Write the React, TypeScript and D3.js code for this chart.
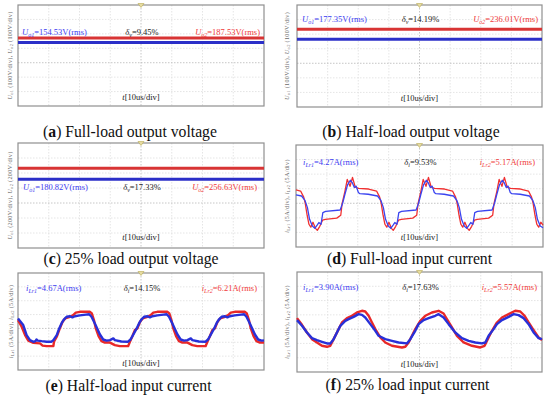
import React from "react";
import * as d3 from "d3";

const W = 550;
const H = 399;

// ---- output voltage panels (a)-(c): trace levels (V)
const voltPerDiv = [100, 100, 200];
const uo1Level = [140, 165, 316];
const uo2Level = [172, 233, 463];
const uo1Rms = ["154.53", "177.35", "180.82"];
const uo2Rms = ["187.53", "236.01", "256.63"];
const deltaV = ["9.45", "14.19", "17.33"];

// ---- input current panels (d)-(f): rms readouts
const iLr1Rms = ["4.27", "4.67", "3.90"];
const iLr2Rms = ["5.17", "6.21", "5.57"];
const deltaI = ["9.53", "14.15", "17.63"];
const ampPerDiv = 5;

// [t (us), i (A)]
const iLr1Full: [number, number][] = [
  [0, 2.9], [1.8, 2.5], [2.9, 1.0], [3.7, -1.5], [4.4, -5.5], [5.3, -7.8], [6.1, -8.6], [6.9, -7.4], [7.4, -6.6], [8.1, -7.2], [8.7, -3.2], [9.6, -2.8], [14.3, -2.3],
  [15.1, 0], [15.85, 3.1], [16.7, 6.3], [17.6, 7.9], [18.2, 7.1], [18.9, 5.4], [19.5, 5.9], [20.2, 3.7], [20.7, 3.3], [23.4, 3.1], [26.4, 2.5], [27.5, 1.0], [28.3, -1.5], [29.0, -5.5], [29.9, -7.8], [30.7, -8.6], [31.5, -7.4], [32.0, -6.6], [32.7, -7.2], [33.3, -3.2], [34.2, -2.8], [38.9, -2.3],
  [39.7, 0], [40.45, 3.1], [41.3, 6.3], [42.2, 7.9], [42.8, 7.1], [43.5, 5.4], [44.1, 5.9], [44.8, 3.7], [45.3, 3.3], [48.0, 3.1], [51.0, 2.5], [52.1, 1.0], [52.9, -1.5], [53.6, -5.5], [54.5, -7.8], [55.3, -8.6], [56.1, -7.4], [56.6, -6.6], [57.3, -7.2], [57.9, -3.2], [58.8, -2.8], [63.5, -2.3],
  [64.3, 0], [65.05, 3.1], [65.9, 6.3], [66.8, 7.9], [67.4, 7.1], [68.1, 5.4], [68.7, 5.9], [69.4, 3.7], [69.9, 3.3], [72.6, 3.1], [75.6, 2.5], [76.7, 1.0], [77.5, -1.5], [78.2, -5.5], [79.1, -7.8], [80, -8.4],
];
const iLr2Full: [number, number][] = [
  [0, 4.6], [1.5, 4.2], [2.5, 2.1], [3.0, 0], [3.6, -4.1], [4.2, -7.2], [4.8, -8.2], [5.5, -6.5], [6.3, -8.6], [6.9, -9.3], [7.7, -7.9], [8.6, -5.8], [9.5, -5.5], [13.2, -5.1], [14.5, -4.1],
  [14.95, 0], [15.85, 4.1], [16.6, 8.2], [17.5, 5.8], [18.3, 8.9], [19.2, 5.5], [20.3, 5.1], [23.5, 4.9], [26.1, 4.2], [27.1, 2.1], [27.6, 0], [28.2, -4.1], [28.8, -7.2], [29.4, -8.2], [30.1, -6.5], [30.9, -8.6], [31.5, -9.3], [32.3, -7.9], [33.2, -5.8], [34.1, -5.5], [37.8, -5.1], [39.1, -4.1],
  [39.55, 0], [40.45, 4.1], [41.2, 8.2], [42.1, 5.8], [42.9, 8.9], [43.8, 5.5], [44.9, 5.1], [48.1, 4.9], [50.7, 4.2], [51.7, 2.1], [52.2, 0], [52.8, -4.1], [53.4, -7.2], [54.0, -8.2], [54.7, -6.5], [55.5, -8.6], [56.1, -9.3], [56.9, -7.9], [57.8, -5.8], [58.7, -5.5], [62.4, -5.1], [63.7, -4.1],
  [64.15, 0], [65.05, 4.1], [65.8, 8.2], [66.7, 5.8], [67.5, 8.9], [68.4, 5.5], [69.5, 5.1], [72.7, 4.9], [75.3, 4.2], [76.3, 2.1], [76.8, 0], [77.4, -4.1], [78.0, -7.2], [78.6, -8.2], [79.3, -6.5], [80, -7.5],
];

const iLr1Half: [number, number][] = [
  [0, 3.6], [1.7, 1.2], [2.8, -2.4], [3.9, -4.2], [5.0, -4.8], [5.7, -4.6], [6.0, -4.0], [6.4, -4.4], [7.7, -4.6], [9.3, -4.8], [10.9, -4.8], [11.5, -4.2], [12.6, -2.4],
  [13.4, 0], [14.15, 1.8], [14.9, 3.2], [15.8, 4.2], [16.9, 4.4], [17.7, 4.0], [18.5, 4.4], [20.1, 4.7], [22.1, 5.0], [23.15, 5.1], [23.9, 4.2], [25.0, 1.8], [25.75, 0], [26.6, -2.1], [27.7, -4.0], [28.8, -4.4], [29.9, -4.2], [31.0, -3.6], [31.5, -4.2], [33.6, -4.7], [35.8, -4.8], [36.6, -4.0], [37.4, -2.4],
  [38.6, 0], [39.35, 1.8], [40.1, 3.2], [41.0, 4.2], [42.1, 4.4], [42.9, 4.0], [43.7, 4.4], [45.3, 4.7], [47.3, 5.0], [48.35, 5.1], [49.1, 4.2], [50.2, 1.8], [50.95, 0], [51.8, -2.1], [52.9, -4.0], [54.0, -4.4], [55.1, -4.2], [56.2, -3.6], [56.7, -4.2], [58.8, -4.7], [61.0, -4.8], [61.8, -4.0], [62.6, -2.4],
  [63.8, 0], [64.55, 1.8], [65.3, 3.2], [66.2, 4.2], [67.3, 4.4], [68.1, 4.0], [68.9, 4.4], [70.5, 4.7], [72.5, 5.0], [73.55, 5.1], [74.3, 4.2], [75.4, 1.8], [76.15, 0], [77.0, -2.1], [78.1, -4.0], [79.2, -4.4], [80, -4.3],
];
const iLr2Half: [number, number][] = [
  [0, 3.0], [1.2, 0.6], [2.3, -2.4], [3.35, -4.4], [5.0, -5.2], [7.15, -5.4], [8.0, -6.2], [9.3, -6.4], [11.5, -6.4], [11.7, -4.8], [12.6, -3.0],
  [13.6, 0], [14.5, 2.4], [15.35, 3.6], [16.9, 4.2], [17.95, 4.8], [18.8, 5.7], [20.1, 6.0], [23.4, 6.0], [24.0, 5.4], [24.7, 3.0], [25.3, 0], [26.2, -2.8], [27.15, -4.6], [28.25, -5.1], [29.9, -5.1], [31.5, -6.0], [33.1, -6.4], [35.8, -6.4], [36.4, -4.8], [37.2, -2.8], [38.0, -0.6],
  [38.8, 0], [39.7, 2.4], [40.55, 3.6], [42.1, 4.2], [43.15, 4.8], [44.0, 5.7], [45.3, 6.0], [48.6, 6.0], [49.2, 5.4], [49.9, 3.0], [50.5, 0], [51.4, -2.8], [52.35, -4.6], [53.45, -5.1], [55.1, -5.1], [56.7, -6.0], [58.3, -6.4], [61.0, -6.4], [61.6, -4.8], [62.4, -2.8], [63.2, -0.6],
  [64.0, 0], [64.9, 2.4], [65.75, 3.6], [67.3, 4.2], [68.35, 4.8], [69.2, 5.7], [70.5, 6.0], [73.8, 6.0], [74.4, 5.4], [75.1, 3.0], [75.7, 0], [76.6, -2.8], [77.55, -4.6], [78.65, -5.1], [80, -5.1],
];

const iLr1Quarter: [number, number][] = [
  [0, 3.15], [1.62, 1.17], [3.25, -1.17], [4.89, -3.15], [6.52, -3.85], [8.15, -4.43], [9.79, -5.0], [10.87, -5.0], [11.96, -3.5], [13.05, -1.17],
  [14.14, 1.17], [15.77, 2.9], [16.86, 3.5], [18.49, 4.3], [20.12, 5.25], [21.21, 5.0], [22.3, 4.1], [23.93, 1.75], [25.57, -0.58], [26.65, -2.33], [28.83, -3.5], [31.0, -4.1], [33.18, -4.67], [35.9, -5.0], [36.99, -3.5], [38.62, -0.58],
  [39.71, 1.75], [41.34, 3.15], [42.98, 3.85], [45.15, 4.67], [46.24, 5.25], [47.87, 4.1], [49.51, 1.75], [51.68, -1.17], [53.87, -3.15], [56.05, -4.1], [58.22, -4.67], [60.4, -5.0], [61.49, -4.67], [62.57, -2.33],
  [64.2, 0], [65.29, 1.75], [66.92, 3.15], [69.1, 4.3], [70.73, 5.25], [72.36, 4.9], [74.0, 3.85], [75.63, 1.75], [77.26, -1.17], [78.89, -3.15], [80, -3.5],
];
const iLr2Quarter: [number, number][] = [
  [0, 3.85], [1.62, 1.52], [3.25, -1.17], [4.89, -3.5], [6.52, -4.67], [8.15, -5.83], [9.79, -6.18], [10.87, -5.83], [11.96, -3.5],
  [13.6, 0], [14.68, 2.33], [16.32, 3.85], [17.95, 4.67], [19.58, 5.83], [21.21, 6.42], [22.3, 6.18], [23.39, 4.67], [24.48, 2.33], [25.57, 0], [27.2, -2.92], [28.83, -4.67], [31.0, -5.83], [34.27, -6.42], [35.36, -6.18], [36.45, -4.67], [37.54, -2.33],
  [38.62, 0], [40.26, 2.92], [41.89, 4.67], [44.07, 5.83], [46.24, 6.42], [47.87, 5.48], [48.96, 3.5], [50.6, 0.58], [52.23, -2.33], [54.41, -4.67], [57.13, -5.83], [59.85, -6.42], [61.26, -5.83], [62.57, -2.92],
  [63.66, -0.58], [65.29, 2.33], [66.92, 4.08], [69.1, 5.25], [71.28, 6.42], [72.91, 6.18], [74.32, 4.67], [75.63, 2.33], [77.26, -0.35], [78.89, -2.92], [80, -3.85],
];

const captionLetters = ["a", "b", "c", "d", "e", "f"];
const captionTexts = [
  "Full-load output voltage",
  "Half-load output voltage",
  "25% load output voltage",
  "Full-load input current",
  "Half-load input current",
  "25% load input current",
];

const timeSpan = 80; // 8 div x 10 us
const cols = 8;
const rows = 7;
const rowsAbove = 4;

const BLUE_TXT = "#3b3bf0";
const RED_TXT = "#f03a3a";
const SERIF = "'Liberation Serif', 'Times New Roman', serif";

// screen layout of each panel
const layout = [
  { x0: 18, x1: 264, y0: 5, y1: 106, lx: 4, rx: 4, ly: 35, ty: 100, ax: 12, cx: 130, cy: 137 },
  { x0: 297, x1: 542, y0: 5, y1: 107, lx: 5, rx: 4, ly: 22, ty: 101, ax: 289, cx: 411, cy: 137 },
  { x0: 18, x1: 264, y0: 143, y1: 248, lx: 5, rx: 7, ly: 190, ty: 240, ax: 12, cx: 131, cy: 264 },
  { x0: 296, x1: 543, y0: 145, y1: 247, lx: 7, rx: 8, ly: 165, ty: 240, ax: 289, cx: 409.5, cy: 264 },
  { x0: 18, x1: 264, y0: 273, y1: 370, lx: 8, rx: 7, ly: 291, ty: 366, ax: 13, cx: 128.5, cy: 390.5 },
  { x0: 297, x1: 542, y0: 272, y1: 372, lx: 6, rx: 5, ly: 290, ty: 367, ax: 289, cx: 407.5, cy: 389.5 },
];

type Series = { data: [number, number][]; color: string; width: number };

const Quantity = ({ x, y, anchor, color, main, sub, rest }: any) => (
  <text x={x} y={y} textAnchor={anchor} fill={color} fontSize={8.5} fontFamily={SERIF}>
    <tspan fontStyle="italic">{main}</tspan>
    <tspan fontStyle="italic" fontSize={6} dy={1.8}>{sub}</tspan>
    <tspan dy={-1.8}>{rest}</tspan>
  </text>
);

const Panel = ({ idx, unitPerDiv, series, isVolt }: { idx: number; unitPerDiv: number; series: Series[]; isVolt: boolean }) => {
  const L = layout[idx];
  const k = idx % 3;
  const x = d3.scaleLinear().domain([0, timeSpan]).range([L.x0, L.x1]);
  const y = d3
    .scaleLinear()
    .domain([-(rows - rowsAbove) * unitPerDiv, rowsAbove * unitPerDiv])
    .range([L.y1, L.y0]);
  const line = d3
    .line<[number, number]>()
    .x((d) => x(d[0]))
    .y((d) => y(d[1]));

  const colTicks = d3.range(1, cols).map((i) => (i * timeSpan) / cols);
  const rowTicks = d3.range(-(rows - rowsAbove) + 1, rowsAbove).map((i) => i * unitPerDiv);
  const cxm = (L.x0 + L.x1) / 2;
  const midY = (L.y0 + L.y1) / 2;

  const sym = isVolt ? "U" : "i";
  const s1 = isVolt ? "o1" : "Lr1";
  const s2 = isVolt ? "o2" : "Lr2";
  const unit = isVolt ? "V" : "A";
  const v1 = isVolt ? uo1Rms[k] : iLr1Rms[k];
  const v2 = isVolt ? uo2Rms[k] : iLr2Rms[k];
  const dv = isVolt ? deltaV[k] : deltaI[k];
  const divTxt = isVolt ? `${unitPerDiv}V/div` : `${unitPerDiv}A/div`;

  return (
    <g>
      {colTicks.map((t) => (
        <line key={"c" + t} x1={x(t)} x2={x(t)} y1={L.y0} y2={L.y1}
          stroke={t === timeSpan / 2 ? "#b8b8b8" : "#dedede"} strokeWidth={0.8} strokeDasharray="1.5,1.5" />
      ))}
      {rowTicks.map((v) => (
        <line key={"r" + v} x1={L.x0} x2={L.x1} y1={y(v)} y2={y(v)}
          stroke={v === 0 ? "#b8b8b8" : "#dedede"} strokeWidth={0.8} strokeDasharray="1.5,1.5" />
      ))}
      <rect x={L.x0} y={L.y0} width={L.x1 - L.x0} height={L.y1 - L.y0} fill="none" stroke="#8f8f8f" strokeWidth={1.2} />
      <path d={`M${cxm - 3},${L.y0 - 1.5}L${cxm + 3},${L.y0 - 1.5}L${cxm},${L.y0 + 2.5}Z`} fill="#e6dca0" stroke="#b9a955" strokeWidth={0.6} />

      {series.map((s, i) => (
        <path key={i} d={line(s.data) || ""} fill="none" stroke={s.color} strokeWidth={s.width} strokeLinejoin="round" />
      ))}

      <Quantity x={L.x0 + L.lx} y={L.ly} anchor="start" color={BLUE_TXT} main={sym} sub={s1} rest={`=${v1}${unit}(rms)`} />
      <Quantity x={cxm + 1} y={L.ly} anchor="middle" color="#222" main={"\u03B4"} sub={isVolt ? "v" : "i"} rest={`=${dv}%`} />
      <Quantity x={L.x1 - L.rx} y={L.ly} anchor="end" color={RED_TXT} main={sym} sub={s2} rest={`=${v2}${unit}(rms)`} />

      <text x={cxm} y={L.ty} textAnchor="middle" fontSize={8.5} fontFamily={SERIF} fill="#222">
        <tspan fontStyle="italic">t</tspan>
        <tspan>[10us/div]</tspan>
      </text>

      <text transform={`translate(${L.ax},${midY}) rotate(-90)`} textAnchor="middle" fontSize={6.2} fontFamily={SERIF} fill="#6a6a6a" letterSpacing={0.3}>
        <tspan fontStyle="italic">{sym}</tspan>
        <tspan fontSize={4.5} dy={1.2}>{s1}</tspan>
        <tspan dy={-1.2}>{`  (${divTxt}),  `}</tspan>
        <tspan fontStyle="italic">{sym}</tspan>
        <tspan fontSize={4.5} dy={1.2}>{s2}</tspan>
        <tspan dy={-1.2}>{`  (${divTxt})`}</tspan>
      </text>

      <text x={L.cx} y={L.cy} textAnchor="middle" fontSize={15.7} fontFamily={SERIF} fill="#111">
        <tspan>(</tspan>
        <tspan fontWeight="bold">{captionLetters[idx]}</tspan>
        <tspan>{`) ${captionTexts[idx]}`}</tspan>
      </text>
    </g>
  );
};

const level = (v: number): [number, number][] => [[0, v], [timeSpan, v]];

export default function App() {
  const voltPanels = [0, 1, 2].map((k) => ({
    idx: k === 0 ? 0 : k === 1 ? 1 : 2,
    unitPerDiv: voltPerDiv[k],
    series: [
      { data: level(uo2Level[k]), color: "#d83434", width: 3 },
      { data: level(uo1Level[k]), color: "#2b2fc8", width: 3 },
    ],
  }));
  const currentSets = [
    [iLr1Full, iLr2Full],
    [iLr1Half, iLr2Half],
    [iLr1Quarter, iLr2Quarter],
  ];
  const currentPanels = currentSets.map(([b, r], k) => ({
    idx: 3 + k,
    unitPerDiv: ampPerDiv,
    series: [
      { data: r, color: k === 0 ? "#f03030" : "#e82828", width: k === 0 ? 1.3 : 2.4 },
      { data: b, color: k === 0 ? "#3a44f0" : "#2830d8", width: k === 0 ? 1.3 : 2.4 },
    ],
  }));

  return (
    <svg width={W} height={H} style={{ position: "absolute", left: 0, top: 0, background: "#fff" }}>
      {voltPanels.map((p) => (
        <Panel key={p.idx} idx={p.idx} unitPerDiv={p.unitPerDiv} series={p.series} isVolt={true} />
      ))}
      {currentPanels.map((p) => (
        <Panel key={p.idx} idx={p.idx} unitPerDiv={p.unitPerDiv} series={p.series} isVolt={false} />
      ))}
    </svg>
  );
}
